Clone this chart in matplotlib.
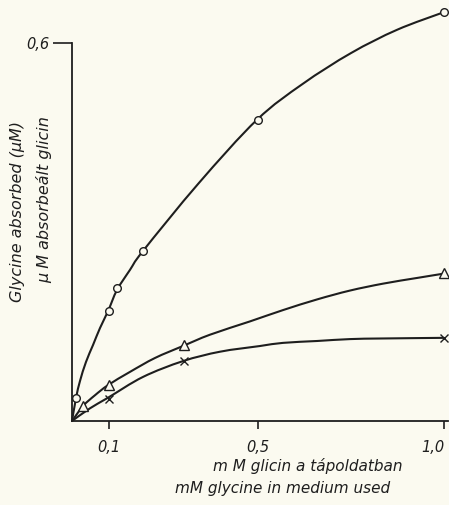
import matplotlib
matplotlib.use("Agg")
import matplotlib.pyplot as plt
from matplotlib.path import Path
from matplotlib.patches import PathPatch

# Marker data (mM glycine in medium, uM absorbed)
circle_x = [0.01, 0.1, 0.12, 0.19, 0.5, 1.0]
circle_y = [0.037, 0.175, 0.211, 0.270, 0.478, 0.649]
tri_x = [0.03, 0.1, 0.3, 1.0]
tri_y = [0.024, 0.057, 0.121, 0.235]
cross_x = [0.1, 0.3, 1.0]
cross_y = [0.035, 0.095, 0.132]

# Hand-drawn curves
circ_curve_x = [0.0, 0.011, 0.0215, 0.0376, 0.0565, 0.0753, 0.097, 0.121, 0.156, 0.191,
                0.34, 0.497, 0.62, 0.75, 0.874, 1.0]
circ_curve_y = [0.0, 0.037, 0.0635, 0.0937, 0.1206, 0.1476, 0.1746, 0.208, 0.240, 0.270,
                0.377, 0.478, 0.535, 0.584, 0.621, 0.649]
tri_curve_x = [0.0, 0.030, 0.062, 0.097, 0.156, 0.223, 0.298, 0.371, 0.478, 0.567,
               0.659, 0.747, 0.836, 0.927, 1.0]
tri_curve_y = [0.0, 0.024, 0.041, 0.057, 0.078, 0.100, 0.119, 0.137, 0.158, 0.176,
               0.193, 0.207, 0.218, 0.227, 0.234]
cross_curve_x = [0.0, 0.048, 0.097, 0.191, 0.298, 0.398, 0.505, 0.567, 0.659, 0.747,
                 0.836, 1.0]
cross_curve_y = [0.0, 0.020, 0.037, 0.070, 0.095, 0.110, 0.119, 0.124, 0.127, 0.130,
                 0.131, 0.132]

x_ticks = [0.1, 0.5, 1.0]
x_ticklabels = ["0,1", "0,5", "1,0"]
y_ticks = [0.6]
y_ticklabels = ["0,6"]

bg = "#fbfaf0"
ink = "#1e1e1e"
W, H = 449, 505
fig = plt.figure(figsize=(W / 100, H / 100), dpi=100, facecolor=bg)
ax = fig.add_axes([72 / W, 84 / H, 375.7 / W, 415.8 / H], facecolor=bg)
ax.set_xlim(0, 1.01)
ax.set_ylim(0, 0.66)


def smooth_path(xs, ys):
    """Build a matplotlib Bezier path passing through the traced points."""
    pts = list(zip(xs, ys))
    n = len(pts)
    verts = [pts[0]]
    codes = [Path.MOVETO]
    for i in range(n - 1):
        p0 = pts[i - 1] if i > 0 else pts[i]
        p1 = pts[i]
        p2 = pts[i + 1]
        p3 = pts[i + 2] if i + 2 < n else pts[i + 1]
        c1 = (p1[0] + (p2[0] - p0[0]) / 6, p1[1] + (p2[1] - p0[1]) / 6)
        c2 = (p2[0] - (p3[0] - p1[0]) / 6, p2[1] - (p3[1] - p1[1]) / 6)
        verts += [c1, c2, p2]
        codes += [Path.CURVE4] * 3
    return Path(verts, codes)


for cx, cy in [(circ_curve_x, circ_curve_y), (tri_curve_x, tri_curve_y),
               (cross_curve_x, cross_curve_y)]:
    patch = PathPatch(smooth_path(cx, cy), fill=False, edgecolor=ink, lw=1.5,
                      capstyle="round", joinstyle="round", clip_on=False)
    ax.add_patch(patch)

ax.plot(circle_x, circle_y, ls="none", marker="o", ms=5.5, mfc=bg, mec=ink, mew=1.0, clip_on=False, zorder=5)
ax.plot(tri_x, tri_y, ls="none", marker="^", ms=6.5, mfc=bg, mec=ink, mew=1.0, clip_on=False, zorder=5)
ax.plot(cross_x, cross_y, ls="none", marker="x", ms=6, mec=ink, mew=1.0, clip_on=False, zorder=5)

for s in ["top", "right"]:
    ax.spines[s].set_visible(False)
ax.spines["left"].set_bounds(0, 0.6)
ax.spines["bottom"].set_bounds(0, 1.01)
for s in ["left", "bottom"]:
    ax.spines[s].set_color(ink)
    ax.spines[s].set_linewidth(1.3)

font = dict(family="DejaVu Sans", style="italic")
ax.set_xticks(x_ticks)
ax.set_xticklabels(x_ticklabels, fontsize=10.5, color=ink, **font)
ax.get_xticklabels()[-1].set_horizontalalignment("right")
ax.set_yticks(y_ticks)
ax.set_yticklabels(y_ticklabels, fontsize=10.5, color=ink, **font)
ax.tick_params(axis="x", length=6, width=1.2, color=ink, pad=8)
ax.tick_params(axis="y", length=14, width=1.2, color=ink, pad=2)

fig.text(18 / W, 1 - 212 / H, "Glycine absorbed (\u03bcM)", rotation=90, ha="center", va="center",
         fontsize=11.5, color=ink, **font)
fig.text(44 / W, 1 - 200 / H, "\u03bc M absorbeált glicin", rotation=90, ha="center", va="center",
         fontsize=11.5, color=ink, **font)
fig.text(308 / W, 1 - 466 / H, "m M glicin a tápoldatban", ha="center", va="center",
         fontsize=11, color=ink, **font)
fig.text(283 / W, 1 - 489 / H, "mM glycine in medium used", ha="center", va="center",
         fontsize=11, color=ink, **font)

fig.savefig("out.png", dpi=100, facecolor=bg)
